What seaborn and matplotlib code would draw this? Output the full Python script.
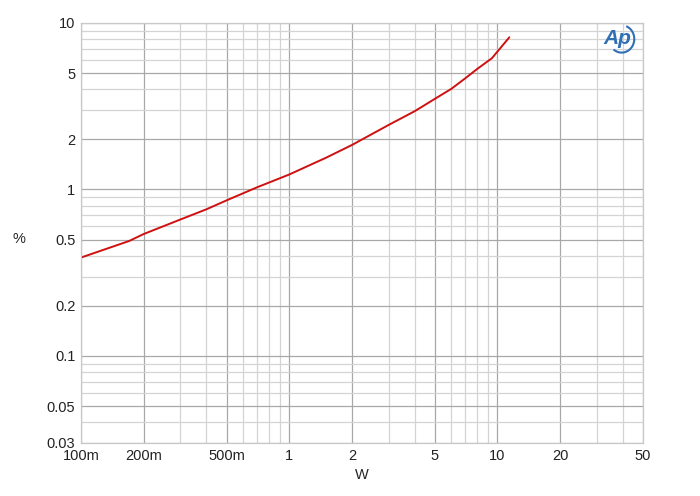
import matplotlib
matplotlib.use("Agg")
import matplotlib.pyplot as plt
import matplotlib.ticker as mticker
from matplotlib.patches import Arc
import seaborn as sns
import pandas as pd

# THD+N vs output power
power_w = [0.1, 0.17, 0.2, 0.3, 0.4, 0.5, 0.7, 1.0, 1.5, 2.0, 3.0, 4.0, 5.0, 6.0, 7.0, 8.0, 9.4, 11.4]
thd_pct = [0.39, 0.49, 0.54, 0.66, 0.76, 0.86, 1.03, 1.23, 1.55, 1.85, 2.44, 2.95, 3.5, 4.02, 4.65, 5.3, 6.14, 8.2]

x_ticks = [0.1, 0.2, 0.5, 1, 2, 5, 10, 20, 50]
x_labels = ["100m", "200m", "500m", "1", "2", "5", "10", "20", "50"]
y_ticks = [0.03, 0.05, 0.1, 0.2, 0.5, 1, 2, 5, 10]
y_labels = ["0.03", "0.05", "0.1", "0.2", "0.5", "1", "2", "5", "10"]

sns.set_style("white")
plt.rcParams["font.family"] = ["Liberation Sans", "DejaVu Sans"]

df = pd.DataFrame({"W": power_w, "pct": thd_pct})

fig = plt.figure(figsize=(7, 4.96), dpi=100)
ax = fig.add_axes([81 / 700, 1 - 443 / 496, (643 - 81) / 700, (443 - 23) / 496])

sns.lineplot(data=df, x="W", y="pct", ax=ax, color="#d01010", linewidth=1.4)

ax.set_xscale("log")
ax.set_yscale("log")
ax.set_xlim(0.1, 50)
ax.set_ylim(0.03, 10)

ax.xaxis.set_major_locator(mticker.FixedLocator(x_ticks))
ax.xaxis.set_major_formatter(mticker.FixedFormatter(x_labels))
ax.xaxis.set_minor_locator(mticker.LogLocator(base=10, subs=range(1, 10), numticks=20))
ax.xaxis.set_minor_formatter(mticker.NullFormatter())
ax.yaxis.set_major_locator(mticker.FixedLocator(y_ticks))
ax.yaxis.set_major_formatter(mticker.FixedFormatter(y_labels))
ax.yaxis.set_minor_locator(mticker.LogLocator(base=10, subs=range(1, 10), numticks=20))
ax.yaxis.set_minor_formatter(mticker.NullFormatter())

ax.grid(which="major", color="#a8a8a8", linewidth=0.9)
ax.grid(which="minor", color="#d4d4d4", linewidth=0.9)
ax.set_axisbelow(True)
ax.tick_params(which="both", length=0, labelsize=10.5, colors="#222222", pad=4)
for s in ax.spines.values():
    s.set_color("#c8c8c8")
    s.set_linewidth(0.9)

ax.set_xlabel("W", fontsize=10.5, labelpad=4)
ax.set_ylabel("%", fontsize=10.5, rotation=0, labelpad=0)
ax.yaxis.set_label_coords(-0.11, 0.47)

# AP logo
ax.text(0.955, 0.962, "Ap", transform=ax.transAxes, fontsize=15, fontstyle="italic",
        fontweight="bold", color="#2f6fb5", ha="center", va="center")
ax.add_patch(Arc((0.962, 0.962), 0.045, 0.065, theta1=-120, theta2=75,
                 transform=ax.transAxes, color="#2f6fb5", linewidth=1.5))

fig.savefig("out.png", dpi=100)
